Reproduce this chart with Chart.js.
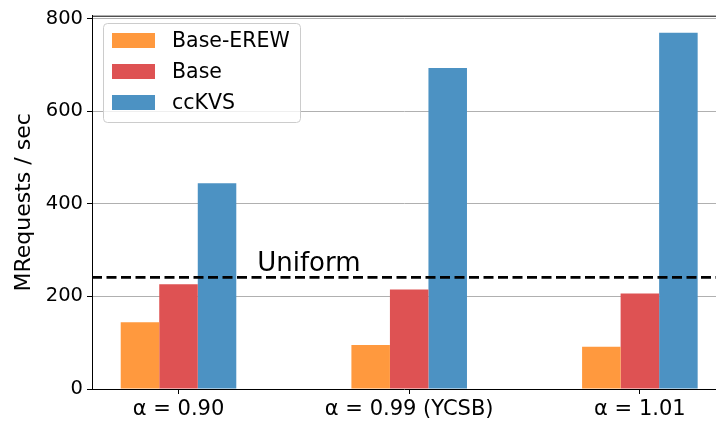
<!DOCTYPE html>
<html>
<head>
<meta charset="utf-8">
<script src="https://cdn.jsdelivr.net/npm/chart.js@4.4.0/dist/chart.umd.min.js"></script>
<style>
html,body{margin:0;padding:0;background:#fff}
</style>
</head>
<body>
<canvas id="graph" width="716" height="423"></canvas>
<script>
// values
const categories = ['α = 0.90', 'α = 0.99 (YCSB)', 'α = 1.01'];
const seriesNames = ['Base-EREW', 'Base', 'ccKVS'];
const baseErew = [144, 95, 91];
const base = [226, 215, 206];
const ccKVS = [444, 693, 769];
const uniform = 241;
const yTicks = [0, 200, 400, 600, 800];

const colors = ['#FF993E', '#DE5253', '#4C92C3'];
const FONT = 'DejaVu Sans';

function pts(arr) {
  return arr.map((v, i) => ({x: i, y: v}));
}

// dashed uniform line, top spine and the boxed legend
const extras = {
  id: 'extras',
  afterDatasetsDraw(chart) {
    const ctx = chart.ctx;
    const a = chart.chartArea;
    const ys = chart.scales.y, xs = chart.scales.x;
    ctx.save();
    // top spine
    ctx.strokeStyle = '#000';
    ctx.lineWidth = 1;
    ctx.beginPath();
    ctx.moveTo(a.left, a.top + 0.5);
    ctx.lineTo(a.right, a.top + 0.5);
    ctx.stroke();

    // uniform line
    const yu = ys.getPixelForValue(uniform);
    ctx.setLineDash([10, 4.5]);
    ctx.lineWidth = 2.6;
    ctx.beginPath();
    ctx.moveTo(a.left, yu);
    ctx.lineTo(a.right, yu);
    ctx.stroke();
    ctx.setLineDash([]);
    ctx.fillStyle = '#000';
    ctx.font = '26px "' + FONT + '"';
    ctx.textBaseline = 'alphabetic';
    ctx.textAlign = 'left';
    ctx.fillText('Uniform', xs.getPixelForValue(0.341), yu - 6);

    // legend
    const bx = 103, by = 23, bw = 197, bh = 99;
    ctx.fillStyle = 'rgba(255,255,255,0.8)';
    ctx.strokeStyle = '#cccccc';
    ctx.lineWidth = 1;
    ctx.beginPath();
    ctx.roundRect(bx + 0.5, by + 0.5, bw, bh, 4);
    ctx.fill();
    ctx.stroke();
    ctx.font = '20.5px "' + FONT + '"';
    ctx.textBaseline = 'middle';
    chart.data.datasets.forEach((ds, i) => {
      const cy = 40.5 + i * 31;
      ctx.fillStyle = ds.backgroundColor;
      ctx.fillRect(112, cy - 7.5, 43, 15);
      ctx.fillStyle = '#000';
      ctx.fillText(ds.label, 172, cy + 1);
    });
    ctx.restore();
  }
};

new Chart(document.getElementById('graph'), {
  type: 'bar',
  data: {
    datasets: [
      {label: seriesNames[0], data: pts(baseErew), backgroundColor: colors[0]},
      {label: seriesNames[1], data: pts(base), backgroundColor: colors[1]},
      {label: seriesNames[2], data: pts(ccKVS), backgroundColor: colors[2]}
    ]
  },
  options: {
    responsive: false,
    animation: false,
    devicePixelRatio: 1,
    categoryPercentage: 0.501,
    barPercentage: 1,
    layout: {padding: {top: 13, right: 0, left: 0, bottom: 0}},
    plugins: {
      legend: {display: false},
      tooltip: {enabled: false}
    },
    scales: {
      x: {
        type: 'linear',
        offset: false,
        min: -0.375,
        max: 2.33,
        afterBuildTicks: s => { s.ticks = categories.map((c, i) => ({value: i})); },
        afterFit: s => { s.height = 34; },
        grid: {drawOnChartArea: false, drawTicks: true, tickLength: 5, tickColor: '#000', offset: false},
        border: {display: true, color: '#000', width: 1},
        ticks: {
          color: '#000',
          font: {family: FONT, size: 21},
          padding: 3,
          maxRotation: 0,
          autoSkip: false,
          callback: v => categories[v]
        }
      },
      y: {
        min: 0,
        max: 806,
        afterBuildTicks: s => { s.ticks = yTicks.map(v => ({value: v})); },
        afterFit: s => { s.width = 92; },
        grid: {
          color: c => (c.tick && c.tick.value === 0) ? 'rgba(0,0,0,0)' : '#b0b0b0',
          lineWidth: 1,
          tickLength: 5,
          tickColor: '#000'
        },
        border: {display: true, color: '#000', width: 1},
        ticks: {
          color: '#000',
          font: {family: FONT, size: 19.5},
          padding: 4
        },
        title: {
          display: true,
          text: 'MRequests / sec',
          color: '#000',
          font: {family: FONT, size: 22},
          padding: {top: 11, bottom: 0}
        }
      }
    }
  },
  plugins: [extras]
});
</script>
</body>
</html>
